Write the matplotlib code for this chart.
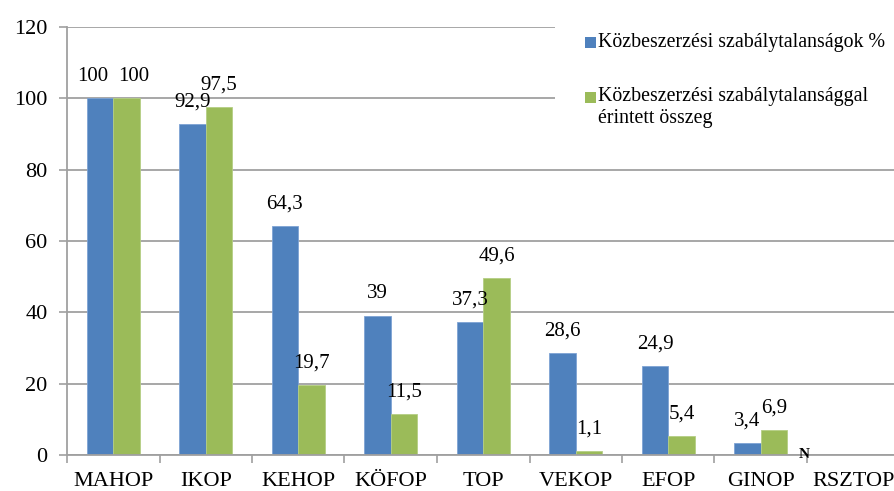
import matplotlib
matplotlib.use("Agg")
import numpy as np
from matplotlib import pyplot as plt
from matplotlib.patches import Rectangle

# adatok
programs = ["MAHOP", "IKOP", "KEHOP", "KÖFOP", "TOP", "VEKOP", "EFOP", "GINOP", "RSZTOP"]
irregular_pct = [100, 92.9, 64.3, 39, 37.3, 28.6, 24.9, 3.4, 0]
irregular_amount = [100, 97.5, 19.7, 11.5, 49.6, 1.1, 5.4, 6.9, 0]
label_blue = ["100", "92,9", "64,3", "39", "37,3", "28,6", "24,9", "3,4", ""]
label_green = ["100", "97,5", "19,7", "11,5", "49,6", "1,1", "5,4", "6,9", ""]
legend_labels = ["Közbeszerzési szabálytalanságok %",
                 "Közbeszerzési szabálytalansággal\nérintett összeg"]

blue = "#4F81BD"
green = "#9BBB59"
grid_col = "#A0A0A0"

plt.rcParams['font.family'] = ['Liberation Serif', 'DejaVu Serif']

fig = plt.figure(figsize=(8.94, 4.91), dpi=100)
W, H = 894, 491
ax = fig.add_axes([67 / W, 36 / H, 832.5 / W, 428 / H])

x = np.arange(len(programs)) + 0.5
bw = 0.287
ax.bar(x - bw / 2, irregular_pct, bw, color=blue, edgecolor="#7EA3D4", linewidth=0.6, zorder=3)
ax.bar(x + bw / 2, irregular_amount, bw, color=green, edgecolor="#B5CE84", linewidth=0.6, zorder=3)

# adatcimkek
nudge = {0: -0.08}
for i in range(len(programs)):
    if label_blue[i]:
        ax.annotate(label_blue[i], (x[i] - bw / 2 + nudge.get(i, 0), irregular_pct[i]),
                    xytext=(0, 9), textcoords="offset points",
                    ha="center", va="bottom", fontsize=15)
    if label_green[i]:
        ax.annotate(label_green[i], (x[i] + bw / 2 - nudge.get(i, 0), irregular_amount[i]),
                    xytext=(0, 9), textcoords="offset points",
                    ha="center", va="bottom", fontsize=15)
ax.text(x[7] + 0.47, 0, "N", fontsize=11, fontweight="bold", ha="center", va="center", zorder=5)

ax.set_xlim(0, len(programs))
ax.set_ylim(0, 120)
ax.set_yticks(range(0, 121, 20))
ax.set_xticks(np.arange(len(programs) + 1), minor=False)
ax.set_xticklabels([])
ax.set_xticks(x, minor=True)
ax.set_xticklabels(programs, minor=True)
ax.tick_params(axis="x", which="minor", length=0, pad=12, labelsize=16)
ax.tick_params(axis="x", which="major", length=6, width=1.2, color=grid_col)
ax.tick_params(axis="y", length=6, width=1.2, color=grid_col, pad=8, labelsize=16)

ax.grid(axis="y", color=grid_col, linewidth=1.3, zorder=0)
ax.set_axisbelow(True)
for s in ["top", "right"]:
    ax.spines[s].set_visible(False)
for s in ["left", "bottom"]:
    ax.spines[s].set_color(grid_col)
    ax.spines[s].set_linewidth(1.3)
ax.spines["bottom"].set_zorder(4)

# jelmagyarazat (feher hatter a racsvonalak felett)
fig.add_artist(Rectangle((555 / W, 1 - 140 / H), 1, 140 / H, transform=fig.transFigure,
                         facecolor="white", edgecolor="none", zorder=2))
fig.add_artist(Rectangle((585 / W, 1 - 48 / H), 11 / W, 11 / H, transform=fig.transFigure,
                         facecolor=blue, edgecolor="none", zorder=3))
fig.add_artist(Rectangle((585 / W, 1 - 103 / H), 11 / W, 11 / H, transform=fig.transFigure,
                         facecolor=green, edgecolor="none", zorder=3))
fig.text(598 / W, 1 - 42 / H, legend_labels[0], fontsize=14.3, va="center", ha="left", zorder=4)
fig.text(598 / W, 1 - 87 / H, legend_labels[1], fontsize=14.3, va="top", ha="left",
         linespacing=1.25, zorder=4)

fig.savefig("out.png", dpi=100)
